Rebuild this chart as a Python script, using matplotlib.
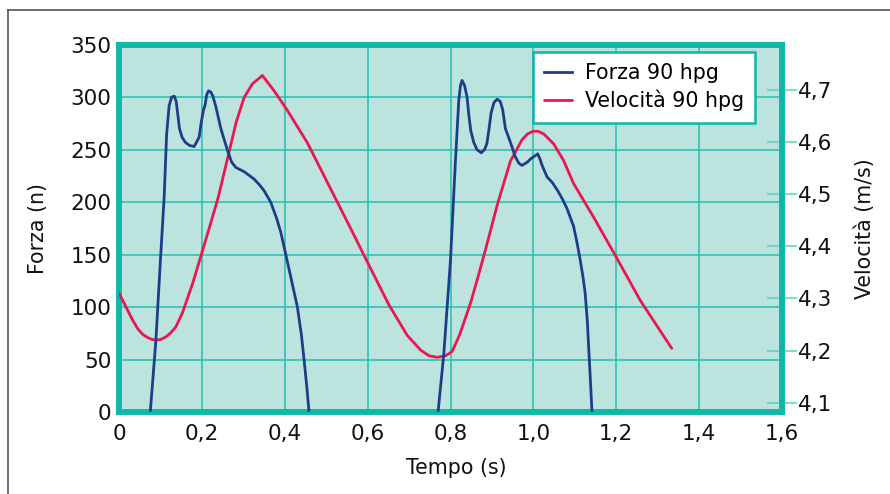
import matplotlib
matplotlib.use("Agg")
import matplotlib.pyplot as plt
from matplotlib.lines import Line2D
from matplotlib.ticker import FixedLocator

# ---- data ----
force_t1 = [0.0755, 0.089, 0.100, 0.105, 0.109, 0.115, 0.121, 0.127, 0.1333, 0.138, 0.142,
            0.146, 0.152, 0.160, 0.170, 0.1815, 0.1935, 0.1985, 0.2035, 0.208, 0.2115,
            0.2160, 0.2215, 0.2265, 0.2337, 0.2458, 0.262, 0.272, 0.282, 0.302, 0.326,
            0.340, 0.350, 0.366, 0.380, 0.390, 0.402, 0.416, 0.4305, 0.440, 0.4466,
            0.453, 0.4586]
force_v1 = [0, 68, 145, 178, 205, 265, 292, 300, 301, 296, 283,
            270, 262, 257, 254, 253, 262, 276, 287, 293, 302,
            306, 305, 301, 291, 270, 249, 238, 233, 229, 222,
            216, 211, 200, 185, 172, 151, 126, 100, 74, 50,
            25, 0]

force_t2 = [0.770, 0.784, 0.800, 0.812, 0.820, 0.824, 0.828, 0.834, 0.840, 0.8445, 0.849,
            0.856, 0.864, 0.874, 0.882, 0.888, 0.893, 0.898, 0.905, 0.9125, 0.920,
            0.926, 0.9325, 0.9446, 0.9566, 0.965, 0.9727, 0.985, 0.993, 1.0104, 1.016,
            1.021, 1.033, 1.045, 1.057, 1.070, 1.081, 1.097, 1.105, 1.113, 1.120,
            1.125, 1.130, 1.133, 1.137, 1.1414]
force_v2 = [0, 56, 145, 240, 297, 311, 316, 311, 300, 282, 268,
            257, 250, 247, 250, 256, 270, 285, 295, 298, 296,
            288, 270, 257, 243, 237, 235, 238, 241, 246, 241,
            235, 224, 219, 212, 203, 194, 177, 162, 145, 128,
            113, 88, 65, 35, 0]

vel_t = [0.000, 0.021, 0.033, 0.045, 0.057, 0.069, 0.080, 0.089, 0.100, 0.113, 0.125,
         0.137, 0.153, 0.1775, 0.1976, 0.2217, 0.240, 0.264, 0.283, 0.302, 0.322, 0.346,
         0.374, 0.4065, 0.4546, 0.503, 0.559, 0.603, 0.651, 0.6956, 0.7277, 0.748, 0.768,
         0.788, 0.804, 0.822, 0.848, 0.866, 0.884, 0.9125, 0.9446, 0.9727, 0.986, 0.999,
         1.012, 1.025, 1.049, 1.073, 1.097, 1.145, 1.200, 1.258, 1.334]
vel_v = [4.310, 4.277, 4.258, 4.242, 4.231, 4.225, 4.221, 4.220, 4.221, 4.226, 4.234,
         4.245, 4.272, 4.328, 4.381, 4.445, 4.495, 4.575, 4.638, 4.685, 4.711, 4.727,
         4.698, 4.660, 4.598, 4.522, 4.434, 4.364, 4.288, 4.229, 4.201, 4.190, 4.187,
         4.190, 4.198, 4.230, 4.290, 4.340, 4.392, 4.478, 4.563, 4.604, 4.615, 4.620,
         4.620, 4.615, 4.596, 4.564, 4.520, 4.456, 4.379, 4.296, 4.204]

x_ticks = [0, 0.2, 0.4, 0.6, 0.8, 1.0, 1.2, 1.4, 1.6]
x_ticklabels = ["0", "0,2", "0,4", "0,6", "0,8", "1,0", "1,2", "1,4", "1,6"]
force_ticks = [0, 50, 100, 150, 200, 250, 300, 350]
vel_ticks = [4.1, 4.2, 4.3, 4.4, 4.5, 4.6, 4.7]
vel_ticklabels = ["4,1", "4,2", "4,3", "4,4", "4,5", "4,6", "4,7"]

label_force = "Forza 90 hpg"
label_vel = "Velocità 90 hpg"

# ---- style ----
plt.rcParams['font.family'] = ['DejaVu Sans']
TEAL = "#0DB8A8"
GRID = "#22BFB0"
BG = "#BDE3DF"
BLUE = "#1F3C88"
RED = "#E8174F"

W, H = 890, 494
fig = plt.figure(figsize=(W / 100, H / 100), dpi=100)
L, R, T, B = 119, 782, 44.7, 412
ax = fig.add_axes([L / W, (H - B) / H, (R - L) / W, (B - T) / H])
ax.set_facecolor(BG)
ax2 = ax.twinx()
ax2.patch.set_visible(False)

ax.set_xlim(0, 1.6)
ax.set_ylim(0, 350)

ax.xaxis.set_major_locator(FixedLocator(x_ticks))
ax.set_xticklabels(x_ticklabels)
ax.yaxis.set_major_locator(FixedLocator(force_ticks))
ax2.yaxis.set_major_locator(FixedLocator(vel_ticks))
ax2.set_yticklabels(vel_ticklabels)

ax.grid(True, color=GRID, linewidth=1.1, zorder=0)
ax.set_axisbelow(True)

# velocity (right axis) then force on top
lv, = ax2.plot(vel_t, vel_v, color=RED, linewidth=2.0, label=label_vel, zorder=3,
               solid_joinstyle='round', solid_capstyle='round')
lf, = ax2.plot(force_t1, force_v1, color=BLUE, linewidth=2.0, label=label_force, zorder=4,
               transform=ax.transData, solid_joinstyle='round')
ax2.plot(force_t2, force_v2, color=BLUE, linewidth=2.0, zorder=4,
         transform=ax.transData, solid_joinstyle='round')
ax2.set_ylim(4.0822, 4.786)
ax.set_xlim(0, 1.6)

for a in (ax, ax2):
    for s in a.spines.values():
        s.set_color(TEAL)
        s.set_linewidth(4.0)

ax.tick_params(axis='x', length=0, pad=8.5, labelsize=15.5, colors='#111111')
ax.tick_params(axis='y', length=0, pad=5.3, labelsize=15.5, colors='#111111')
ax2.tick_params(axis='y', direction='inout', length=21, width=1.1, color='#5CCFC3',
                pad=1.0, labelsize=15.5, labelcolor='#111111')

ax.set_xlabel("Tempo (s)", fontsize=14.8, color='#111111')
ax.xaxis.set_label_coords((456 - L) / (R - L), -0.124)
ax.set_ylabel("Forza (n)", fontsize=14.8, color='#111111')
ax.yaxis.set_label_coords((48 - L) / (R - L), 0.5)
ax2.set_ylabel("Velocità (m/s)", fontsize=14.8, color='#111111', rotation=90)
ax2.yaxis.set_label_coords((855 - L) / (R - L), 0.5)

leg = ax2.legend(handles=[lf, lv], loc='upper right',
                 bbox_to_anchor=((755 - L) / (R - L), (B - 52) / (B - T)),
                 borderaxespad=0, fontsize=14.8, frameon=True, fancybox=False,
                 handlelength=1.35, handletextpad=0.6, labelspacing=0.32,
                 borderpad=0.55)
leg.get_frame().set_edgecolor(TEAL)
leg.get_frame().set_linewidth(1.8)
leg.get_frame().set_facecolor('white')
leg.get_frame().set_alpha(1)
leg.set_zorder(10)

# outer grey frame
fig.add_artist(Line2D([8 / W, 8 / W], [0, (H - 10) / H], color='#555555', linewidth=1.2,
                      transform=fig.transFigure))
fig.add_artist(Line2D([8 / W, 1], [(H - 10) / H, (H - 10) / H], color='#555555',
                      linewidth=1.2, transform=fig.transFigure))

fig.savefig("out.png", dpi=100)
